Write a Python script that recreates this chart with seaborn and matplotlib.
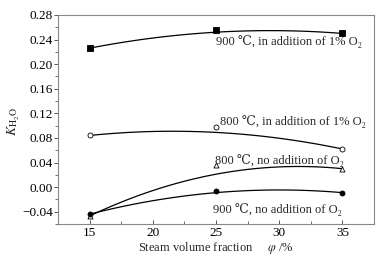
import matplotlib
matplotlib.use("Agg")
import matplotlib.pyplot as plt
from matplotlib.ticker import MultipleLocator
import numpy as np
import pandas as pd
import seaborn as sns

# measured points
steam = [15, 25, 35]
k_900_o2 = [0.226, 0.256, 0.251]
k_800_o2 = [0.084, 0.097, 0.062]
k_800_no = [-0.047, 0.036, 0.030]
k_900_no = [-0.044, -0.006, -0.009]

# values at the same steam fractions
fit_900_o2 = [0.226, 0.252, 0.250]
fit_800_o2 = [0.084, 0.089, 0.062]
fit_800_no = [-0.047, 0.021, 0.030]
fit_900_no = [-0.044, -0.009, -0.009]

labels = ["900 ℃, in addition of 1% O₂",
          "800 ℃, in addition of 1% O₂",
          "800 ℃, no addition of O₂",
          "900 ℃, no addition of O₂"]
label_x = [25.0, 25.3, 24.9, 24.8]
label_y = [0.236, 0.106, 0.043, -0.036]

sns.set_style("ticks")
plt.rcParams['font.family'] = ['Liberation Serif', 'DejaVu Serif']
plt.rcParams['mathtext.fontset'] = 'stix'

fig = plt.figure(figsize=(3.85, 2.59), dpi=100)
ax = fig.add_axes([0.1506, 0.1351, 0.8208, 0.807])

series = [
    (k_900_o2, fit_900_o2, "s", "black"),
    (k_800_o2, fit_800_o2, "o", "white"),
    (k_800_no, fit_800_no, "^", "white"),
    (k_900_no, fit_900_no, "o", "black"),
]

for vals, fit, mk, fc in series:
    sns.regplot(x=steam, y=fit, order=2, ci=None, scatter=False, ax=ax,
                line_kws=dict(color="black", lw=0.9))
    df = pd.DataFrame({"steam": steam, "k": vals})
    sns.scatterplot(data=df, x="steam", y="k", marker=mk, s=13,
                    facecolor=fc, edgecolor="black", linewidth=0.6,
                    ax=ax, zorder=3)

for txt, tx, ty in zip(labels, label_x, label_y):
    ax.text(tx, ty, txt, fontsize=9, va="center", ha="left")

ax.set_xlim(12.5, 37.5)
ax.set_ylim(-0.06, 0.28)
ax.set_xticks([15, 20, 25, 30, 35])
yt = np.arange(-0.04, 0.281, 0.04)
ax.set_yticks(yt)
ax.set_yticklabels([f"{v:.2f}".replace("-", "\u2212") for v in yt])
ax.xaxis.set_minor_locator(MultipleLocator(2.5))
ax.yaxis.set_minor_locator(MultipleLocator(0.02))
ax.tick_params(axis="x", which="both", direction="in", colors="#555555", labelcolor="black", labelsize=9.5, pad=2)
ax.tick_params(axis="y", which="both", direction="out", colors="#555555", labelcolor="black", labelsize=9.5, pad=0.5)
ax.tick_params(which="major", length=3, width=0.7)
ax.tick_params(which="minor", length=2, width=0.6)
ax.tick_params(top=False, right=False)
for sp in ax.spines.values():
    sp.set_color("#888888")
    sp.set_linewidth(0.8)

ax.set_xlabel("Steam volume fraction     $\\varphi$ /%", fontsize=9, labelpad=1)
ax.set_ylabel("$K_{\\mathrm{H_2O}}$", fontsize=10)
ax.yaxis.set_label_coords(-0.115, 0.49)

fig.savefig("out.png", dpi=100)
